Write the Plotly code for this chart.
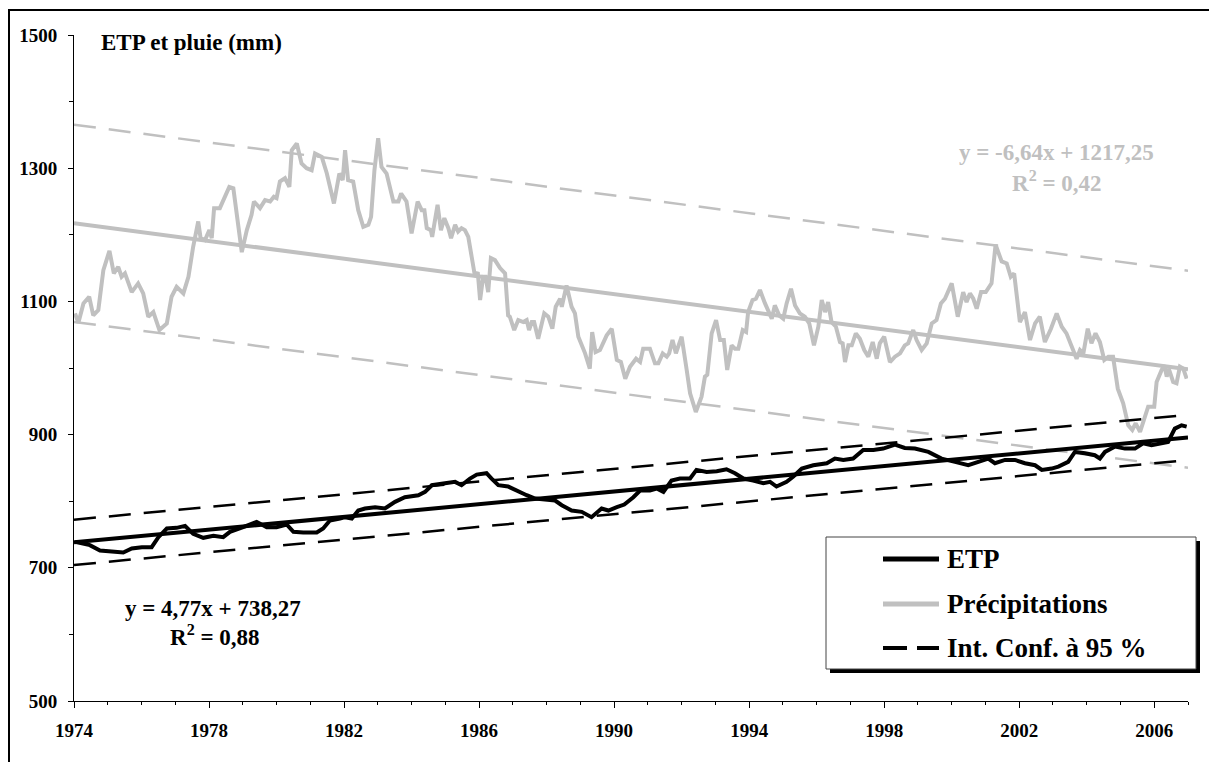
import plotly.graph_objects as go

# ---------------- data ----------------
precip_year = [1974.03, 1974.13, 1974.28, 1974.45, 1974.57, 1974.72, 1974.87, 1975.05, 1975.18, 1975.31,
               1975.41, 1975.51, 1975.71, 1975.90, 1976.05, 1976.20, 1976.35, 1976.53, 1976.75, 1976.89,
               1977.04, 1977.24, 1977.39, 1977.53, 1977.68, 1977.75, 1977.88, 1978.01, 1978.08, 1978.15,
               1978.32, 1978.47, 1978.60, 1978.72, 1978.84, 1978.97, 1979.12, 1979.26, 1979.33, 1979.51,
               1979.66, 1979.81, 1979.92, 1980.00, 1980.10, 1980.25, 1980.38, 1980.45, 1980.60, 1980.74,
               1980.89, 1981.04, 1981.14, 1981.34, 1981.49, 1981.70, 1981.86, 1981.96, 1982.03, 1982.12,
               1982.27, 1982.42, 1982.57, 1982.72, 1982.80, 1982.90, 1983.01, 1983.11, 1983.26, 1983.46,
               1983.61, 1983.69, 1983.85, 1984.00, 1984.18, 1984.30, 1984.38, 1984.45, 1984.57, 1984.61,
               1984.77, 1984.87, 1984.97, 1985.09, 1985.17, 1985.29, 1985.38, 1985.48, 1985.58, 1985.68,
               1985.78, 1985.88, 1985.96, 1986.03, 1986.12, 1986.19, 1986.27, 1986.35, 1986.47, 1986.62,
               1986.77, 1986.86, 1986.91, 1987.04, 1987.16, 1987.31, 1987.41, 1987.48, 1987.56, 1987.63,
               1987.75, 1987.93, 1988.05, 1988.17, 1988.27, 1988.40, 1988.45, 1988.59, 1988.74, 1988.84,
               1988.94, 1989.14, 1989.28, 1989.35, 1989.45, 1989.58, 1989.78, 1989.93, 1990.08, 1990.20,
               1990.33, 1990.47, 1990.65, 1990.77, 1990.86, 1991.06, 1991.21, 1991.31, 1991.44, 1991.56,
               1991.63, 1991.73, 1991.83, 1992.00, 1992.15, 1992.25, 1992.42, 1992.59, 1992.69, 1992.76,
               1992.89, 1993.02, 1993.14, 1993.25, 1993.35, 1993.48, 1993.58, 1993.68, 1993.81, 1993.91,
               1993.97, 1994.10, 1994.20, 1994.32, 1994.47, 1994.67, 1994.76, 1994.89, 1995.01, 1995.11,
               1995.24, 1995.36, 1995.50, 1995.65, 1995.78, 1995.92, 1996.05, 1996.15, 1996.25, 1996.34,
               1996.44, 1996.57, 1996.69, 1996.77, 1996.84, 1996.94, 1997.04, 1997.16, 1997.28, 1997.41,
               1997.53, 1997.66, 1997.78, 1997.87, 1998.00, 1998.09, 1998.17, 1998.32, 1998.47, 1998.61,
               1998.71, 1998.86, 1998.96, 1999.11, 1999.26, 1999.41, 1999.55, 1999.68, 1999.80, 2000.00,
               2000.18, 2000.34, 2000.44, 2000.54, 2000.64, 2000.74, 2000.87, 2001.01, 2001.18, 2001.30,
               2001.48, 2001.63, 2001.75, 2001.85, 2002.02, 2002.17, 2002.32, 2002.47, 2002.61, 2002.76,
               2002.94, 2003.11, 2003.26, 2003.40, 2003.53, 2003.70, 2003.80, 2003.90, 2004.03, 2004.14,
               2004.26, 2004.39, 2004.52, 2004.64, 2004.78, 2004.92, 2005.08, 2005.23, 2005.35, 2005.45,
               2005.58, 2005.70, 2005.82, 2006.00, 2006.07, 2006.22, 2006.30, 2006.37, 2006.43, 2006.56,
               2006.66, 2006.76, 2006.86, 2006.96]
precip_mm = [1082, 1068, 1097, 1107, 1079, 1087, 1147, 1176, 1142, 1152,
             1137, 1142, 1114, 1127, 1112, 1077, 1084, 1057, 1067, 1107,
             1122, 1112, 1137, 1182, 1220, 1195, 1192, 1207, 1195, 1240,
             1240, 1257, 1272, 1270, 1227, 1174, 1207, 1230, 1250, 1240,
             1252, 1250, 1257, 1255, 1280, 1285, 1272, 1327, 1337, 1307,
             1300, 1297, 1322, 1317, 1292, 1247, 1292, 1282, 1327, 1282,
             1280, 1237, 1212, 1215, 1227, 1297, 1345, 1302, 1292, 1250,
             1250, 1262, 1250, 1202, 1250, 1237, 1237, 1210, 1207, 1197,
             1245, 1207, 1225, 1210, 1195, 1215, 1205, 1210, 1207, 1197,
             1167, 1137, 1144, 1102, 1137, 1137, 1114, 1165, 1162, 1150,
             1142, 1079, 1077, 1057, 1072, 1069, 1072, 1057, 1069, 1069,
             1044, 1082, 1077, 1059, 1092, 1104, 1092, 1124, 1092, 1082,
             1047, 1022, 999, 1054, 1024, 1027, 1049, 1059, 1012, 1009,
             984, 1002, 1014, 1009, 1029, 1029, 1007, 1007, 1022, 1017,
             1022, 1042, 1022, 1047, 997, 962, 934, 957, 987, 990,
             1052, 1072, 1042, 1042, 997, 1034, 1029, 1029, 1057, 1054,
             1084, 1102, 1104, 1117, 1097, 1074, 1094, 1079, 1074, 1097,
             1119, 1094, 1082, 1077, 1067, 1034, 1062, 1102, 1084, 1099,
             1069, 1062, 1039, 1037, 1009, 1034, 1034, 1052, 1044, 1027,
             1017, 1039, 1014, 1037, 1047, 1027, 1009, 1017, 1022, 1034,
             1037, 1057, 1042, 1027, 1037, 1067, 1072, 1097, 1104, 1127,
             1077, 1114, 1099, 1112, 1104, 1089, 1114, 1114, 1127, 1185,
             1160, 1157, 1137, 1142, 1069, 1084, 1042, 1067, 1077, 1039,
             1059, 1082, 1062, 1052, 1037, 1014, 1027, 1022, 1059, 1037,
             1052, 1039, 1012, 1017, 1017, 969, 947, 914, 907, 917,
             904, 922, 942, 942, 979, 997, 1004, 987, 999, 979,
             977, 1002, 999, 984]

etp_year = [1974.03, 1974.47, 1974.77, 1975.16, 1975.46, 1975.71, 1976.01, 1976.30, 1976.50, 1976.75,
            1977.04, 1977.29, 1977.53, 1977.83, 1978.13, 1978.42, 1978.62, 1979.01, 1979.41, 1979.71,
            1980.00, 1980.30, 1980.50, 1980.79, 1981.19, 1981.38, 1981.58, 1981.88, 1982.03, 1982.23,
            1982.42, 1982.62, 1982.92, 1983.21, 1983.51, 1983.80, 1984.20, 1984.40, 1984.60, 1984.99,
            1985.29, 1985.48, 1985.73, 1985.93, 1986.22, 1986.37, 1986.57, 1986.86, 1987.16, 1987.41,
            1987.66, 1987.95, 1988.25, 1988.45, 1988.74, 1989.04, 1989.33, 1989.63, 1989.83, 1990.08,
            1990.30, 1990.57, 1990.77, 1991.06, 1991.26, 1991.46, 1991.70, 1991.95, 1992.25, 1992.44,
            1992.74, 1993.04, 1993.33, 1993.58, 1993.83, 1994.12, 1994.42, 1994.62, 1994.81, 1995.11,
            1995.31, 1995.56, 1995.90, 1996.30, 1996.54, 1996.79, 1997.08, 1997.38, 1997.68, 1997.97,
            1998.17, 1998.32, 1998.61, 1998.91, 1999.31, 1999.70, 2000.10, 2000.49, 2000.79, 2001.08,
            2001.28, 2001.58, 2001.87, 2002.17, 2002.47, 2002.67, 2002.96, 2003.16, 2003.45, 2003.65,
            2003.95, 2004.24, 2004.39, 2004.54, 2004.84, 2005.13, 2005.43, 2005.67, 2005.92, 2006.22,
            2006.41, 2006.61, 2006.81, 2006.96]
etp_mm = [739, 734, 726, 725, 723, 729, 731, 731, 746, 759,
          760, 763, 751, 745, 748, 746, 754, 761, 769, 761,
          761, 765, 754, 753, 753, 759, 771, 774, 776, 774,
          786, 789, 791, 789, 799, 806, 809, 814, 824, 827,
          829, 824, 834, 840, 842, 834, 824, 822, 814, 809,
          804, 803, 801, 794, 786, 784, 776, 789, 786, 791,
          795, 806, 816, 816, 819, 814, 831, 834, 834, 847,
          844, 845, 848, 842, 834, 831, 827, 829, 822, 829,
          837, 849, 854, 857, 864, 862, 864, 877, 877, 879,
          882, 885, 880, 879, 874, 864, 859, 854, 859, 864,
          857, 862, 862, 857, 854, 847, 849, 852, 859, 874,
          872, 869, 864, 874, 882, 879, 879, 887, 884, 887,
          889, 909, 914, 912]

# regression results shown on the chart (x = years since 1974)
etp_slope, etp_intercept, etp_r2 = 4.77, 738.27, 0.88
precip_slope, precip_intercept, precip_r2 = -6.64, 1217.25, 0.42
etp_ci_half = 34
precip_ci_half = 148
trend_years = [1974, 2007]

x_ticks = [1974, 1978, 1982, 1986, 1990, 1994, 1998, 2002, 2006]
y_ticks = [500, 700, 900, 1100, 1300, 1500]

# ---------------- styling ----------------
GRAY = "#c0c0c0"
BLACK = "#000000"
FONT = "Liberation Serif"
DASH = "22px,13px"


def trend(slope, intercept, offset=0.0):
    return [intercept + slope * (y - 1974) + offset for y in trend_years]


fig = go.Figure()

for off in (precip_ci_half, -precip_ci_half):
    fig.add_trace(go.Scatter(x=trend_years, y=trend(precip_slope, precip_intercept, off), mode="lines",
                             line=dict(color=GRAY, width=2.5, dash=DASH), hoverinfo="skip", showlegend=False))
fig.add_trace(go.Scatter(x=precip_year, y=precip_mm, mode="lines", name="Précipitations",
                         line=dict(color=GRAY, width=4), showlegend=False))
fig.add_trace(go.Scatter(x=trend_years, y=trend(precip_slope, precip_intercept), mode="lines",
                         line=dict(color=GRAY, width=4), hoverinfo="skip", showlegend=False))
for off in (etp_ci_half, -etp_ci_half):
    fig.add_trace(go.Scatter(x=trend_years, y=trend(etp_slope, etp_intercept, off), mode="lines",
                             line=dict(color=BLACK, width=2.5, dash=DASH), hoverinfo="skip", showlegend=False))
fig.add_trace(go.Scatter(x=etp_year, y=etp_mm, mode="lines", name="ETP",
                         line=dict(color=BLACK, width=4), showlegend=False))
fig.add_trace(go.Scatter(x=trend_years, y=trend(etp_slope, etp_intercept), mode="lines",
                         line=dict(color=BLACK, width=4), hoverinfo="skip", showlegend=False))

# ---------------- layout geometry ----------------
# the page body has an 8px margin, so the figure is made 8px smaller and
# positions below are given in screen pixels of the reference
OFF = 8
W, H = 1217 - OFF, 762 - OFF
L, R, T, B = 66, 29, 27, 61
PW, PH = W - L - R, H - T - B


def px(xs):
    return (xs - OFF - L) / PW


def py(ys):
    return (H - B - (ys - OFF)) / PH


shapes = []
shapes.append(dict(type="rect", xref="paper", yref="paper", x0=px(9), x1=px(1240), y0=py(800), y1=py(10),
                   line=dict(color=BLACK, width=2), fillcolor="rgba(0,0,0,0)", layer="below"))
shapes.append(dict(type="rect", xref="paper", yref="paper", x0=px(830), x1=px(1200), y0=py(673), y1=py(541),
                   line=dict(width=0), fillcolor=BLACK, layer="above"))
shapes.append(dict(type="rect", xref="paper", yref="paper", x0=px(826), x1=px(1196), y0=py(669), y1=py(537),
                   line=dict(color="#444444", width=1), fillcolor="white", layer="above"))
legend_items = [("ETP", BLACK, None, 559), ("Précipitations", GRAY, None, 604), ("Int. Conf. à 95 %", BLACK, "dash", 648)]
annotations = []
for label, col, dash, yy in legend_items:
    if dash:
        for a, b in ((883, 907), (917, 939)):
            shapes.append(dict(type="line", xref="paper", yref="paper", x0=px(a), x1=px(b), y0=py(yy), y1=py(yy),
                               line=dict(color=col, width=4), layer="above"))
    else:
        shapes.append(dict(type="line", xref="paper", yref="paper", x0=px(883), x1=px(939), y0=py(yy), y1=py(yy),
                           line=dict(color=col, width=5), layer="above"))
    annotations.append(dict(text=label, xref="paper", yref="paper", x=px(945), y=py(yy), xanchor="left",
                            yanchor="middle", showarrow=False,
                            font=dict(family=FONT, size=27, color=BLACK, weight="bold")))

annotations.append(dict(text="ETP et pluie (mm)", xref="paper", yref="paper", x=px(99), y=py(43),
                        xanchor="left", yanchor="middle", showarrow=False,
                        font=dict(family=FONT, size=23, color=BLACK, weight="bold")))
eq_font_b = dict(family=FONT, size=23, color=BLACK, weight="bold")
eq_font_g = dict(family=FONT, size=23, color=GRAY, weight="bold")
annotations.append(dict(text=f"y = {etp_slope:.2f}x + {etp_intercept:.2f}".replace(".", ","),
                        xref="paper", yref="paper", x=px(213), y=py(608), xanchor="center", yanchor="middle",
                        showarrow=False, font=eq_font_b))
annotations.append(dict(text=f"R<sup>2</sup> = {etp_r2:.2f}".replace(".", ","),
                        xref="paper", yref="paper", x=px(215), y=py(635), xanchor="center", yanchor="middle",
                        showarrow=False, font=eq_font_b))
annotations.append(dict(text=f"y = {precip_slope:.2f}x + {precip_intercept:.2f}".replace(".", ","),
                        xref="paper", yref="paper", x=px(1056), y=py(152), xanchor="center", yanchor="middle",
                        showarrow=False, font=eq_font_g))
annotations.append(dict(text=f"R<sup>2</sup> = {precip_r2:.2f}".replace(".", ","),
                        xref="paper", yref="paper", x=px(1057), y=py(181), xanchor="center", yanchor="middle",
                        showarrow=False, font=eq_font_g))

tick_font = dict(family=FONT, size=19, color=BLACK, weight="bold")
fig.update_layout(
    width=W, height=H,
    margin=dict(l=L, r=R, t=T, b=B, pad=0),
    paper_bgcolor="white", plot_bgcolor="white",
    showlegend=False,
    shapes=shapes, annotations=annotations,
    xaxis=dict(range=[1974, 2007], tickvals=x_ticks, ticktext=[str(v) for v in x_ticks],
               showgrid=False, zeroline=False, showline=True, linecolor=BLACK, linewidth=1,
               ticks="outside", ticklen=6, tickwidth=1, tickcolor=BLACK, tickfont=tick_font,
               ticklabelstandoff=6,
               minor=dict(dtick=1, tick0=1974, ticks="outside", ticklen=3, tickcolor=BLACK, showgrid=False)),
    yaxis=dict(range=[500, 1500], tickvals=y_ticks, ticktext=[str(v) for v in y_ticks],
               showgrid=False, zeroline=False, showline=True, linecolor=BLACK, linewidth=1,
               ticks="outside", ticklen=5, tickwidth=1, tickcolor=BLACK, tickfont=tick_font,
               ticklabelstandoff=7,
               minor=dict(dtick=100, tick0=500, ticks="outside", ticklen=4, tickcolor=BLACK, showgrid=False)),
)

fig.write_html("out.html")
